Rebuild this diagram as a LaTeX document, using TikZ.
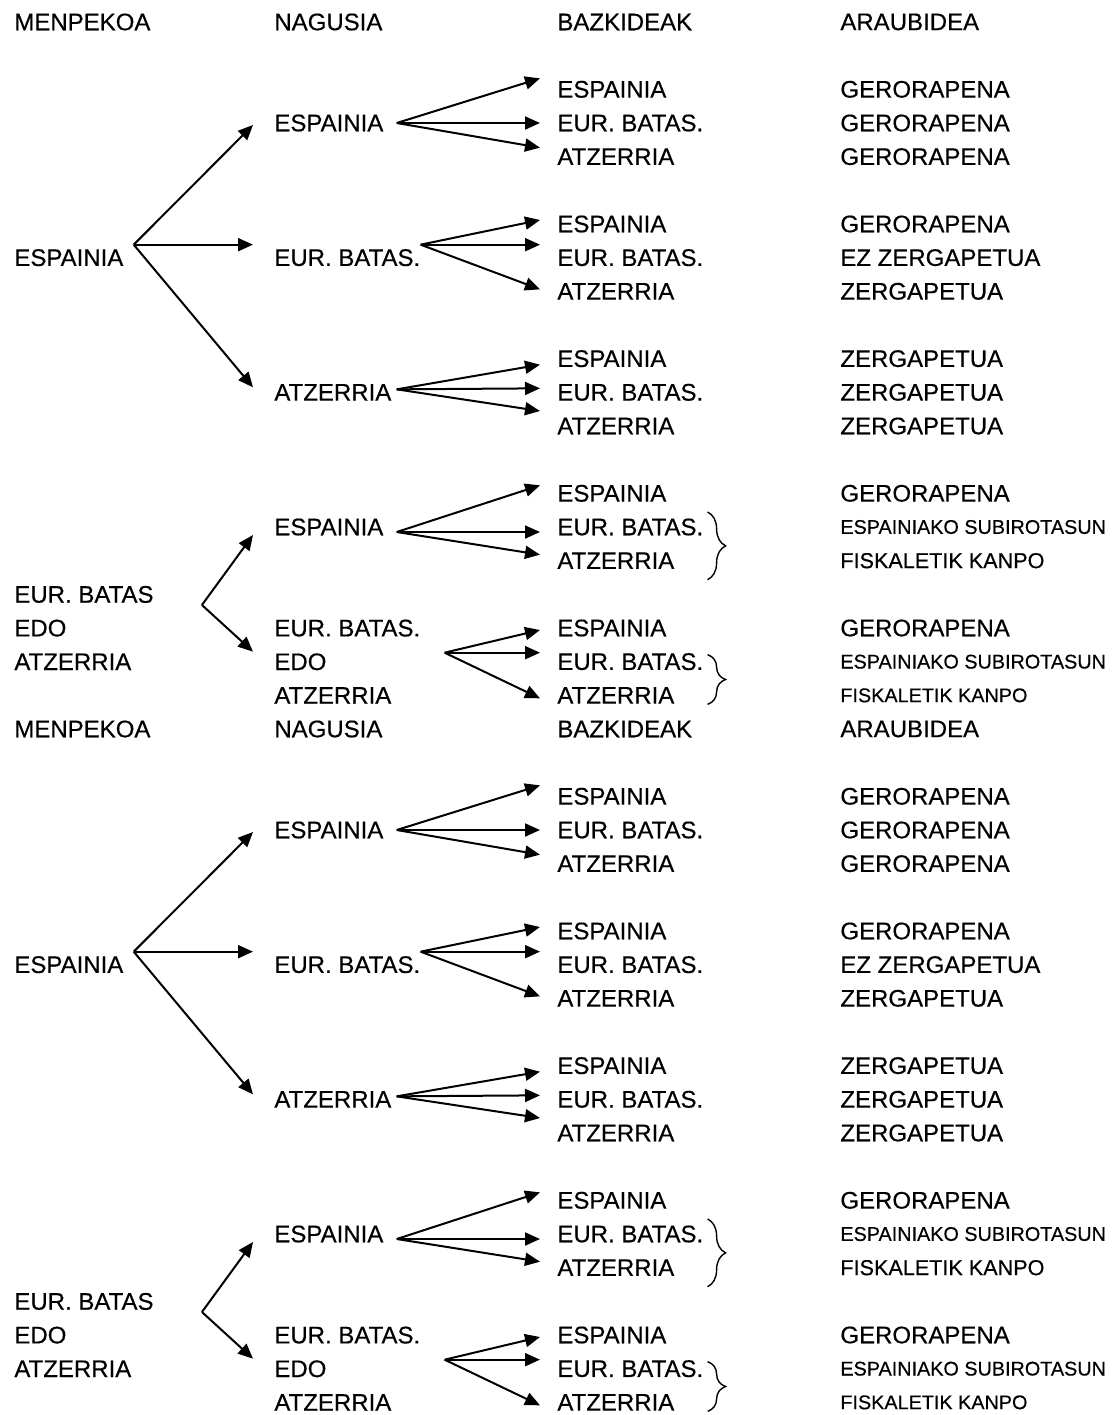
\documentclass[tikz,border=0pt]{standalone}
\usepackage{fontspec}
\setmainfont{Liberation Sans}[FakeBold=0.4]
\usetikzlibrary{calc}
\usetikzlibrary{arrows.meta}
\usetikzlibrary{decorations.pathreplacing}
\newcommand{\rowy}[1]{22+33.667*#1}

\begin{document}
\begin{tikzpicture}[x=0.5pt,y=-0.5pt,
        txt/.style={anchor=west,inner sep=0pt,align=left,font=\fontsize{12}{16.83}\selectfont},
        smalltxt/.style={anchor=west,inner sep=0pt,font=\fontsize{9.9}{12}\selectfont},
        arr/.style={line width=1pt,-{Triangle[length=7.5pt,width=6.5pt]}},
        brc/.style={line width=0.7pt,decorate,decoration={brace,amplitude=9pt}}]
            \useasboundingbox (0,0) rectangle (1118,1415);
            \foreach \B in {0,1}{
                \begin{scope}[yshift=-353.5pt*\B]
                    \node[txt] (h\B-1) at (14,\rowy{0}) {MENPEKOA};
                    \node[txt] (h\B-2) at (274,\rowy{0}) {NAGUSIA};
                    \node[txt] (h\B-3) at (557,\rowy{0}) {BAZKIDEAK};
                    \node[txt] (h\B-4) at (840,\rowy{0}) {ARAUBIDEA};
                    \node[txt] (m\B-7) at (14,\rowy{7}) {ESPAINIA};
                    \node[txt] (m\B-18) at (14,\rowy{18}) {EUR. BATAS\\EDO\\ATZERRIA};
                    \foreach \k/\t in {3/ESPAINIA,7/EUR. BATAS.,11/ATZERRIA,15/ESPAINIA}{
                        \node[txt] (n\B-\k) at (274,\rowy{\k}) {\t};
                    }
                    \node[txt] (n\B-19) at (274,\rowy{19}) {EUR. BATAS.\\EDO\\ATZERRIA};
                    \foreach \k [evaluate=\k as \kb using int(\k+1), evaluate=\k as \kc using int(\k+2)] in {2,6,10,14,18}{
                        \node[txt] (b\B-\k) at (557,\rowy{\k}) {ESPAINIA};
                        \node[txt] (b\B-\kb) at (557,\rowy{\kb}) {EUR. BATAS.};
                        \node[txt] (b\B-\kc) at (557,\rowy{\kc}) {ATZERRIA};
                    }
                    \foreach \k/\t in {2/GERORAPENA,3/GERORAPENA,4/GERORAPENA,6/GERORAPENA,7/EZ ZERGAPETUA,8/ZERGAPETUA,
                            10/ZERGAPETUA,11/ZERGAPETUA,12/ZERGAPETUA,14/GERORAPENA,18/GERORAPENA}{
                        \node[txt] (a\B-\k) at (840,\rowy{\k}) {\t};
                    }
                    \node[smalltxt] (a\B-15) at (840,\rowy{15}) {ESPAINIAKO SUBIROTASUN};
                    \node[smalltxt,font=\fontsize{10.8}{13}\selectfont] (a\B-16) at (840,\rowy{16}) {FISKALETIK KANPO};
                    \node[smalltxt] (a\B-19) at (840,\rowy{19}) {ESPAINIAKO SUBIROTASUN};
                    \node[smalltxt] (a\B-20) at (840,\rowy{20}) {FISKALETIK KANPO};
                    \coordinate (p\B-7) at ($(m\B-7.east)+(10,-13)$);
                    \foreach \t/\d in {3/2,7/-13,11/-5}{
                        \draw[arr] (p\B-7) -- ($(n\B-\t.west)+(-21,\d)$);
                    }
                    \coordinate (p\B-18) at ($(m\B-18.east)+(48,-23)$);
                    \draw[arr] (p\B-18) -- ($(n\B-15.west)+(-21,8)$);
                    \draw[arr] (p\B-18) -- ($(n\B-19.west)+(-21,-10)$);
                    \foreach \n/\g/\ox/\oy/\da/\db/\dc in {3/2/13/0/-11/0/-9,7/6/0/-13/-4/-13/-2,11/10/5/-3/6/-4/-15,
                            15/14/13/5/-8/5/-6,19/18/24/-9/2/-9/3}{
                        \pgfmathtruncatemacro{\gb}{\g+1}
                        \pgfmathtruncatemacro{\gc}{\g+2}
                        \coordinate (q\B-\n) at ($(n\B-\n.east)+(\ox,\oy)$);
                        \draw[arr] (q\B-\n) -- ($(b\B-\g.west)+(-17,\da)$);
                        \draw[arr] (q\B-\n) -- ($(b\B-\gb.west)+(-17,\db)$);
                        \draw[arr] (q\B-\n) -- ($(b\B-\gc.west)+(-17,\dc)$);
                    }
                    \draw[brc] ($(b\B-15.east)+(4,-15)$) -- ($(b\B-15.east |- b\B-16.center)+(4,19)$);
                    \draw[brc] ($(b\B-19.east)+(4,-7)$) -- ($(b\B-19.east |- b\B-20.center)+(4,9)$);
                \end{scope}
            }
        \end{tikzpicture}
\end{document}
